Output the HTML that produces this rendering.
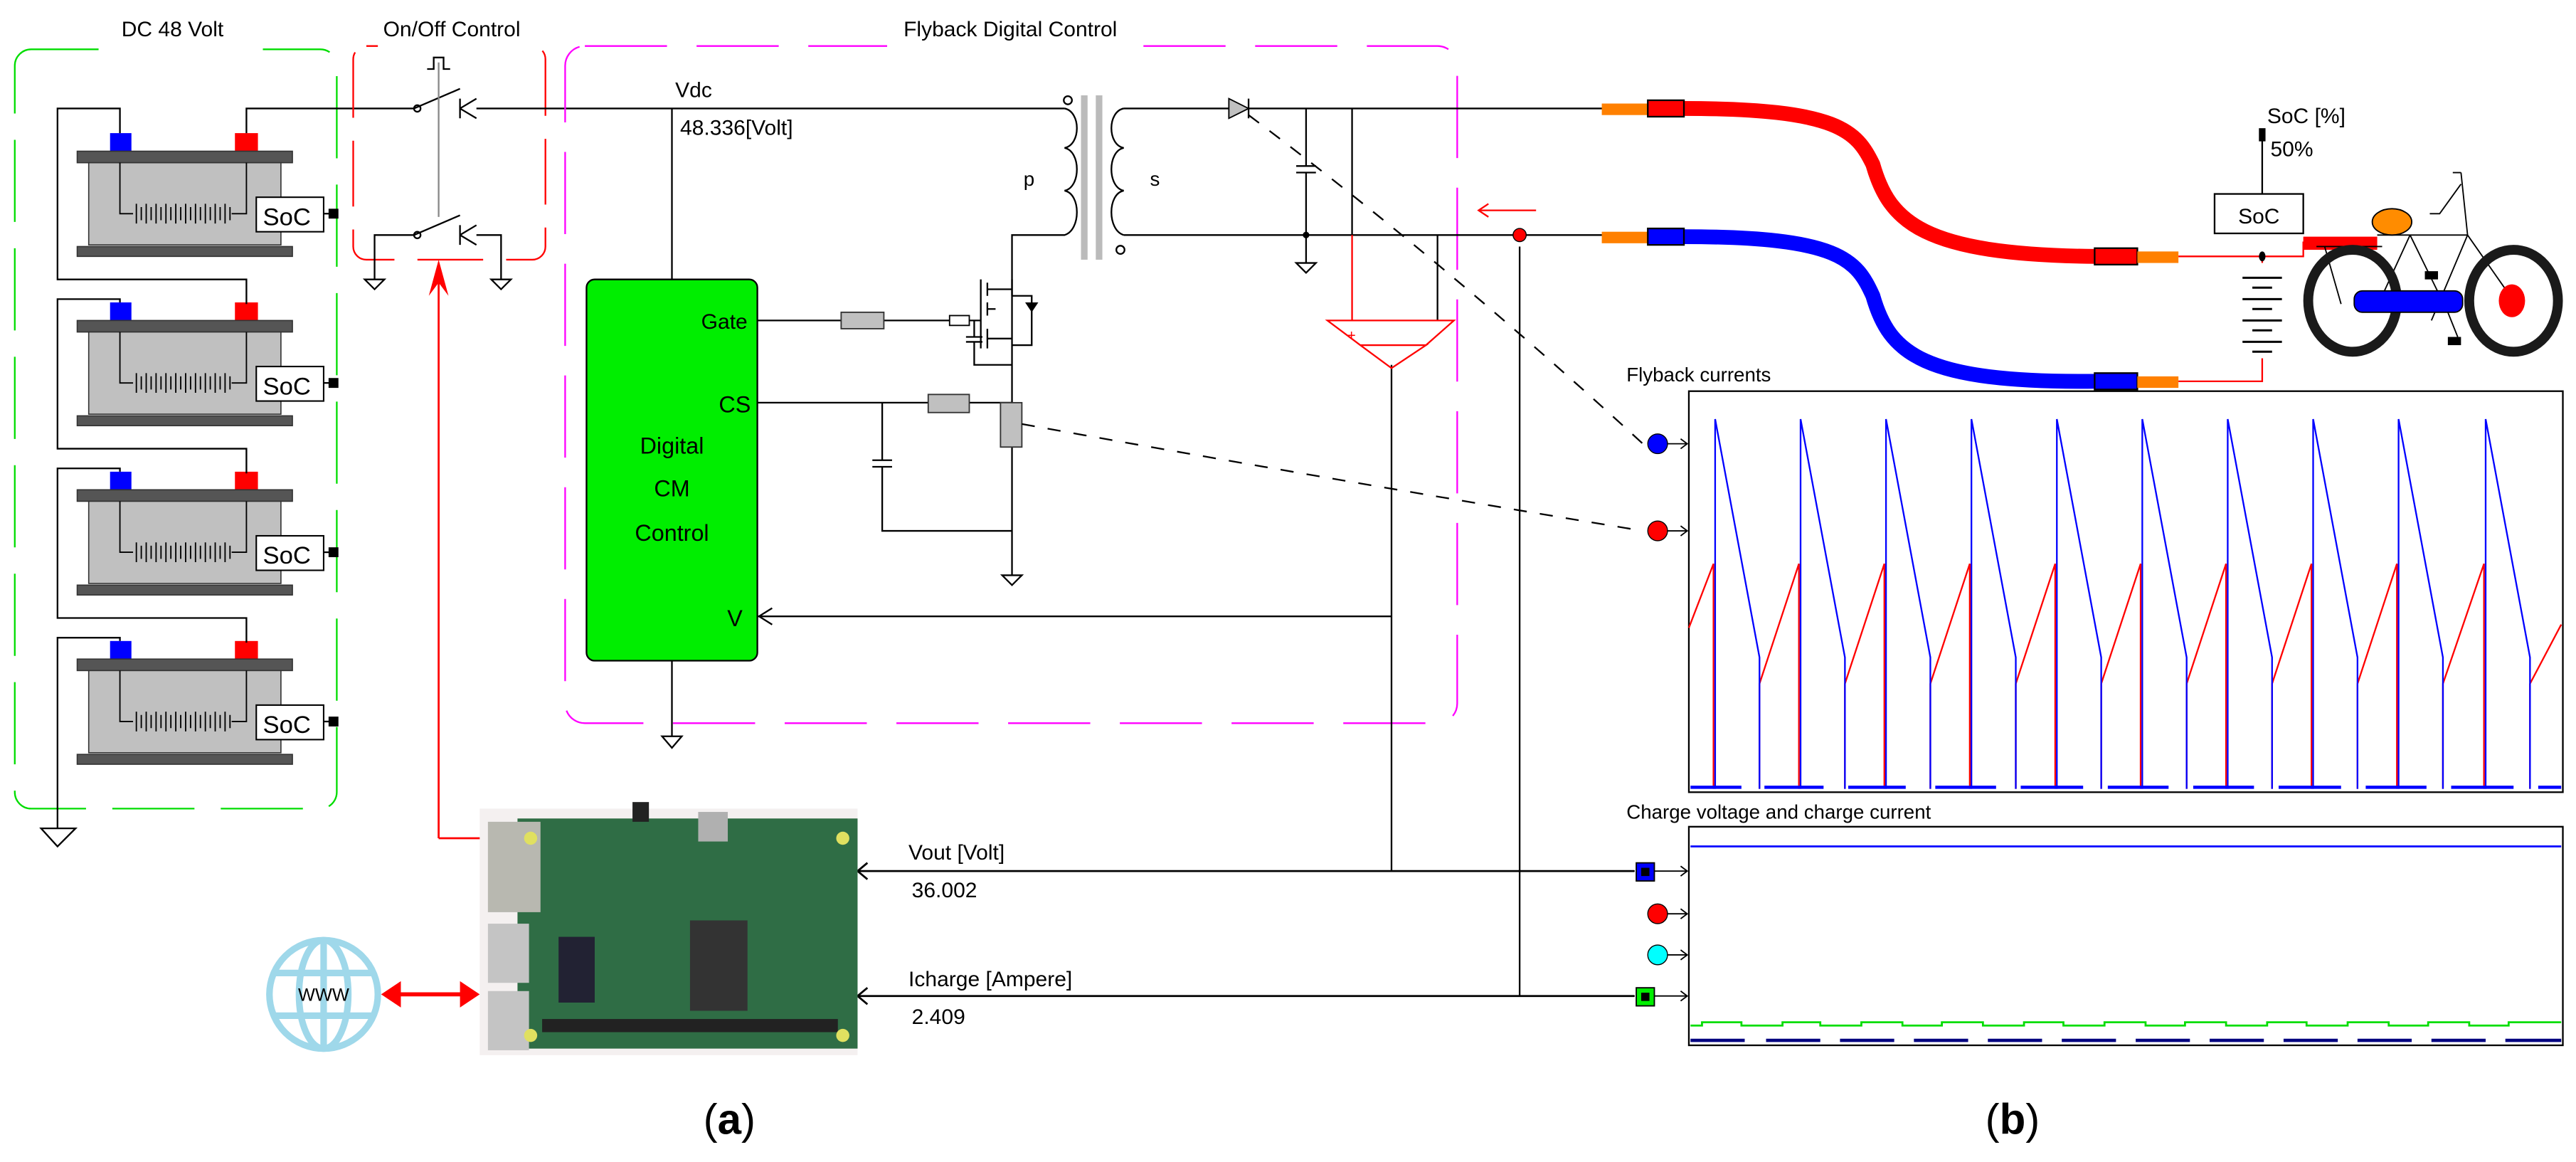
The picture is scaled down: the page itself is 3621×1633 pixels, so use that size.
<!DOCTYPE html>
<html><head><meta charset="utf-8"><style>
html,body{margin:0;padding:0;background:#fff;}
svg{display:block;}
text{font-family:"Liberation Sans",sans-serif;}
</style></head><body>
<svg width="3621" height="1633" viewBox="0 0 1568 707" preserveAspectRatio="none" xmlns="http://www.w3.org/2000/svg">
<rect width="1568" height="707" fill="#fff"/>
<defs>
<g id="bat">
  <rect x="67" y="81" width="13" height="11" fill="#0000ff"/>
  <rect x="143" y="81" width="14" height="11" fill="#ff0000"/>
  <rect x="47" y="92" width="131" height="7" fill="#555" stroke="#333" stroke-width="0.7"/>
  <rect x="54" y="99" width="117" height="50" fill="#c0c0c0" stroke="#333" stroke-width="0.7"/>
  <rect x="47" y="150" width="131" height="6" fill="#555" stroke="#333" stroke-width="0.7"/>
  <path d="M73 99 V130 H81 M150 99 V130 H141" fill="none" stroke="#000" stroke-width="0.8"/>
  <path d="M83 124v12M86 126v8M89 124v12M92 126v8M95 124v12M98 126v8M101 124v12M104 126v8M107 124v12M110 126v8M113 124v12M116 126v8M119 124v12M122 126v8M125 124v12M128 126v8M131 124v12M134 126v8M137 124v12M140 126v8" stroke="#000" stroke-width="0.8"/>
  <rect x="156" y="120" width="41" height="21" fill="#fff" stroke="#000" stroke-width="0.9"/>
  <text x="160" y="137" font-size="15">SoC</text>
  <line x1="197" y1="130" x2="201" y2="130" stroke="#000"/>
  <rect x="200" y="127" width="6" height="6" fill="#000"/>
</g>
<marker id="al" markerWidth="8" markerHeight="8" refX="1" refY="4" orient="auto"><path d="M7 0 L1 4 L7 8" fill="none" stroke="#000" stroke-width="1"/></marker>
</defs>

<!-- DC 48 Volt box -->
<rect x="9" y="30" width="196" height="462" rx="10" fill="none" stroke="#00dd00" stroke-width="1" stroke-dasharray="50,16"/>
<rect x="60" y="24" width="100" height="12" fill="#fff"/>
<text x="105" y="22" font-size="13" text-anchor="middle">DC 48 Volt</text>
<use href="#bat"/>
<use href="#bat" y="103"/>
<use href="#bat" y="206"/>
<use href="#bat" y="309"/>
<g fill="none" stroke="#000" stroke-width="1">
<path d="M73 81 V66 H35 V170 H150 V185"/>
<path d="M73 184 V182 H35 V273 H150 V288"/>
<path d="M73 287 V285 H35 V376 H150 V391"/>
<path d="M73 390 V388 H35 V504"/>
<path d="M25 504 H46 L35 515 Z"/>
<path d="M150 81 V66 H252"/>
</g>

<!-- On/Off -->
<rect x="215" y="28" width="117" height="130" rx="8" fill="none" stroke="#ff0000" stroke-width="1" stroke-dasharray="40,14"/>
<rect x="230" y="22" width="90" height="12" fill="#fff"/>
<text x="275" y="22" font-size="13" text-anchor="middle">On/Off Control</text>
<g fill="none" stroke="#000" stroke-width="1">
<line x1="252" y1="66" x2="280" y2="54"/>
<circle cx="254" cy="66" r="2"/>
<path d="M280 60 V72 M280 66 L290 60 M280 66 L290 72"/>
<line x1="290" y1="66" x2="409" y2="66"/>
<line x1="252" y1="143" x2="280" y2="131"/>
<circle cx="254" cy="143" r="2"/>
<path d="M280 137 V149 M280 143 L290 137 M280 143 L290 149"/>
<path d="M252 143 H228 V170 M222 170 H234 L228 176 Z"/>
<path d="M290 143 H305 V170 M299 170 H311 L305 176 Z"/>
<path d="M260 42 H264 V35 H270 V42 H274"/>
</g>
<line x1="267" y1="38" x2="267" y2="132" stroke="#888" stroke-width="1"/>
<path d="M267 510 V162" stroke="#ff0000" stroke-width="1.2" fill="none"/>
<path d="M267 510 H295" stroke="#ff0000" stroke-width="1.2"/>
<path d="M267 158 L261 180 L267 172 L273 180 Z" fill="#ff0000"/>

<!-- Flyback box -->
<rect x="344" y="28" width="543" height="412" rx="12" fill="none" stroke="#ff00ff" stroke-width="1" stroke-dasharray="50,18"/>
<rect x="540" y="22" width="150" height="12" fill="#fff"/>
<text x="615" y="22" font-size="13" text-anchor="middle">Flyback Digital Control</text>
<text x="411" y="59" font-size="13">Vdc</text>
<text x="414" y="82" font-size="13">48.336[Volt]</text>
<g fill="none" stroke="#000" stroke-width="1">
<path d="M409 66 H648"/>
<path d="M409 66 V170"/>
<path d="M409 402 V448 M403 448 H415 L409 455 Z"/>
</g>
<rect x="357" y="170" width="104" height="232" rx="5" fill="#00ee00" stroke="#000" stroke-width="1"/>
<text x="455" y="200" font-size="13" text-anchor="end">Gate</text>
<text x="457" y="251" font-size="14" text-anchor="end">CS</text>
<text x="409" y="276" font-size="14" text-anchor="middle">Digital</text>
<text x="409" y="302" font-size="14" text-anchor="middle">CM</text>
<text x="409" y="329" font-size="14" text-anchor="middle">Control</text>
<text x="452" y="381" font-size="14" text-anchor="end">V</text>

<!-- transformer -->
<g fill="none" stroke="#000" stroke-width="1">
<path d="M648 66 C658 68 658 88 648 90 C658 92 658 114 648 116 C658 118 658 140 648 143 H616 V180"/>
<path d="M684 66 C674 68 674 88 684 90 C674 92 674 114 684 116 C674 118 674 140 684 143"/>
<path d="M684 66 H748"/>
<path d="M684 143 H1000"/>
<circle cx="650" cy="61" r="2.5"/><circle cx="682" cy="152" r="2.5"/>
</g>
<rect x="658" y="58" width="4" height="100" fill="#bbb"/>
<rect x="667" y="58" width="4" height="100" fill="#bbb"/>
<text x="623" y="113" font-size="12">p</text>
<text x="700" y="113" font-size="12">s</text>
<!-- mosfet -->
<g fill="none" stroke="#000" stroke-width="1">
<path d="M616 180 H628 V210 H616"/>
<path d="M616 170 V350 M610 350 H622 L616 356 Z"/>
<path d="M461 195 H512 M538 195 H578 M590 195 H597"/>
<path d="M597 170 V212 M601 172 V180 M601 184 V192 M601 200 V212"/>
<path d="M601 176 H616 M601 206 H616 M601 188 H606"/>
<path d="M593 195 V205 M588 205 H598 M588 208 H598 M593 208 V222 H616"/>
<path d="M461 245 H565 M590 245 H616"/>
<path d="M537 245 V280 M531 280 H543 M531 284 H543 M537 284 V323 H616"/>
</g>
<path d="M628 190 L624 184 H632 Z" fill="#000"/>
<rect x="512" y="190" width="26" height="10" fill="#c0c0c0" stroke="#333" stroke-width="0.8"/>
<rect x="578" y="192" width="12" height="6" fill="#fff" stroke="#000" stroke-width="0.8"/>
<rect x="565" y="240" width="25" height="11" fill="#c0c0c0" stroke="#333" stroke-width="0.8"/>
<rect x="609" y="245" width="13" height="27" fill="#c0c0c0" stroke="#333" stroke-width="0.8"/>
<path d="M622 258 Q800 290 1000 323" fill="none" stroke="#000" stroke-width="1" stroke-dasharray="8,8"/>
<path d="M461 375 H847" stroke="#000" stroke-width="1"/>
<path d="M470 370 L462 375 L470 380" fill="none" stroke="#000"/>
<!-- secondary -->
<path d="M748 60 L760 66 L748 72 Z" fill="#c0c0c0" stroke="#000" stroke-width="0.8"/>
<g fill="none" stroke="#000" stroke-width="1">
<path d="M760 60 V72 M760 66 H985"/>
<path d="M795 66 V101 M789 101 H801 M789 105 H801 M795 105 V160 M789 160 H801 L795 166 Z"/>
<path d="M823 66 V143"/>
<path d="M875 143 V195"/>
<path d="M847 222 V530"/>
<path d="M925 150 V606"/>
</g>
<circle cx="795" cy="143" r="2" fill="#000"/>
<line x1="823" y1="143" x2="823" y2="195" stroke="#ff0000"/>
<path d="M808 195 H885 L868 210 H828 Z M828 210 H868 L847 224 Z" fill="none" stroke="#ff0000" stroke-width="1"/>
<text x="820" y="207" font-size="9" fill="#ff0000">+</text>
<path d="M760 70 Q880 160 1000 270" fill="none" stroke="#000" stroke-width="1" stroke-dasharray="8,8"/>
<path d="M935 128 H900 M906 124 L900 128 L906 132" fill="none" stroke="#ff0000" stroke-width="1"/>
<circle cx="925" cy="143" r="4" fill="#ff0000" stroke="#000" stroke-width="0.6"/>

<!-- Vout / Icharge -->
<g fill="none" stroke="#000" stroke-width="1.2">
<path d="M522 530 H995"/><path d="M528 525 L522 530 L528 535"/>
<path d="M522 606 H995"/><path d="M528 601 L522 606 L528 611"/>
</g>
<text x="553" y="523" font-size="13">Vout [Volt]</text>
<text x="555" y="546" font-size="13">36.002</text>
<text x="553" y="600" font-size="13">Icharge [Ampere]</text>
<text x="555" y="623" font-size="13">2.409</text>

<!-- RPi -->
<rect x="292" y="492" width="230" height="150" fill="#f4f0f0"/>
<rect x="315" y="498" width="207" height="140" fill="#2f6d45"/>
<rect x="297" y="500" width="32" height="55" fill="#b8b8b0"/>
<rect x="297" y="562" width="25" height="36" fill="#c4c4c4"/>
<rect x="297" y="603" width="25" height="36" fill="#c4c4c4"/>
<rect x="425" y="494" width="18" height="18" fill="#b0b0b0"/>
<rect x="385" y="488" width="10" height="12" fill="#222"/>
<rect x="340" y="570" width="22" height="40" fill="#223"/>
<rect x="420" y="560" width="35" height="55" fill="#333"/>
<rect x="330" y="620" width="180" height="8" fill="#222"/>
<circle cx="323" cy="510" r="4" fill="#e0e060"/><circle cx="513" cy="510" r="4" fill="#e0e060"/>
<circle cx="323" cy="630" r="4" fill="#e0e060"/><circle cx="513" cy="630" r="4" fill="#e0e060"/>
<!-- globe -->
<g fill="none" stroke="#9fd8ea" stroke-width="4">
<ellipse cx="197" cy="605" rx="33" ry="33"/>
<ellipse cx="197" cy="605" rx="15" ry="33"/>
<line x1="197" y1="572" x2="197" y2="638"/>
<line x1="166" y1="592" x2="228" y2="592"/>
<line x1="166" y1="618" x2="228" y2="618"/>
</g>
<text x="197" y="609" font-size="11" text-anchor="middle">WWW</text>
<path d="M234 605 H288" stroke="#ff0000" stroke-width="2.5"/>
<path d="M232 605 L244 597 L244 613 Z M292 605 L280 597 L280 613 Z" fill="#ff0000"/>

<!-- cables -->
<path d="M1025 66 C1120 66 1130 80 1140 100 C1150 135 1170 155 1275 156" fill="none" stroke="#ff0000" stroke-width="9"/>
<path d="M1025 144 C1120 144 1130 158 1140 180 C1150 215 1170 233 1275 232" fill="none" stroke="#0000ff" stroke-width="9"/>
<line x1="985" y1="66" x2="1000" y2="66" stroke="#000"/>
<rect x="975" y="63" width="28" height="7" fill="#ff8000"/>
<rect x="1003" y="61" width="22" height="10" fill="#ff0000" stroke="#000" stroke-width="1"/>
<rect x="975" y="141" width="28" height="7" fill="#ff8000"/>
<rect x="1003" y="139" width="22" height="10" fill="#0000ff" stroke="#000" stroke-width="1"/>
<rect x="1275" y="151" width="26" height="10" fill="#ff0000" stroke="#000" stroke-width="1"/>
<rect x="1301" y="153" width="25" height="7" fill="#ff8000"/>
<rect x="1275" y="227" width="26" height="10" fill="#0000ff" stroke="#000" stroke-width="1"/>
<rect x="1301" y="229" width="25" height="7" fill="#ff8000"/>
<!-- bike side -->
<path d="M1326 156 H1377 V160 M1377 156 H1402 V147" fill="none" stroke="#ff0000" stroke-width="1"/>
<path d="M1326 232 H1377 V218" fill="none" stroke="#ff0000" stroke-width="1"/>
<g stroke="#000" stroke-width="1.3">
<line x1="1365" y1="169" x2="1389" y2="169"/><line x1="1371" y1="175" x2="1383" y2="175"/>
<line x1="1365" y1="182" x2="1389" y2="182"/><line x1="1371" y1="188" x2="1383" y2="188"/>
<line x1="1365" y1="195" x2="1389" y2="195"/><line x1="1371" y1="201" x2="1383" y2="201"/>
<line x1="1365" y1="208" x2="1389" y2="208"/><line x1="1371" y1="214" x2="1383" y2="214"/>
</g>
<ellipse cx="1377" cy="156" rx="2" ry="3" fill="#000"/>
<rect x="1348" y="118" width="54" height="24" fill="#fff" stroke="#000" stroke-width="1"/>
<text x="1375" y="136" font-size="13" text-anchor="middle">SoC</text>
<line x1="1377" y1="85" x2="1377" y2="118" stroke="#000"/>
<rect x="1375" y="78" width="4" height="8" fill="#000"/>
<text x="1380" y="75" font-size="13">SoC [%]</text>
<text x="1382" y="95" font-size="13">50%</text>
<rect x="1402" y="144" width="45" height="8" fill="#ff0000"/>
<g fill="none" stroke="#000" stroke-width="0.8">
<path d="M1447 143 H1502 L1530 183 M1502 143 L1498 105 M1498 105 H1493 M1498 112 L1485 130 H1479"/>
<path d="M1467 143 L1490 190 L1496 205 M1467 143 L1450 180 M1502 143 L1480 195"/>
<path d="M1410 150 H1450 M1415 150 L1425 185"/>
</g>
<ellipse cx="1432" cy="183" rx="27" ry="31" fill="none" stroke="#1a1a1a" stroke-width="6"/>
<ellipse cx="1530" cy="183" rx="27" ry="31" fill="none" stroke="#1a1a1a" stroke-width="6"/>
<ellipse cx="1529" cy="183" rx="8" ry="10" fill="#ff0000"/>
<rect x="1433" y="177" width="66" height="13" rx="5" fill="#0000ff" stroke="#000" stroke-width="0.8"/>
<ellipse cx="1456" cy="135" rx="12" ry="8" fill="#ff8c00" stroke="#000" stroke-width="0.8"/>
<rect x="1476" y="165" width="8" height="5" fill="#000"/>
<rect x="1490" y="205" width="8" height="5" fill="#000"/>

<!-- Chart 1 -->
<text x="990" y="232" font-size="12">Flyback currents</text>
<rect x="1028" y="238" width="532" height="244" fill="#fff" stroke="#000" stroke-width="1"/>
<circle cx="1009" cy="270" r="6" fill="#0000ff" stroke="#000" stroke-width="0.6"/>
<circle cx="1009" cy="323" r="6" fill="#ff0000" stroke="#000" stroke-width="0.6"/>
<path d="M1015 270 H1027 M1023 267 L1027 270 L1023 273 M1015 323 H1027 M1023 320 L1027 323 L1023 326" fill="none" stroke="#000" stroke-width="0.8"/>
<path d="M1028 382 L1043 343 L1043 480 M1071 480 L1071 416 L1095 343 L1095 480 M1123 480 L1123 416 L1147 343 L1147 480 M1175 480 L1175 416 L1199 343 L1199 480 M1227 480 L1227 416 L1251 343 L1251 480 M1279 480 L1279 416 L1303 343 L1303 480 M1331 480 L1331 416 L1355 343 L1355 480 M1383 480 L1383 416 L1407 343 L1407 480 M1435 480 L1435 416 L1459 343 L1459 480 M1487 480 L1487 416 L1512 343 L1512 480 M1540 480 L1540 416 L1559 380" fill="none" stroke="#ff0000" stroke-width="1"/>
<path d="M1044 480 V255 L1071 400 V480 M1096 480 V255 L1123 400 V480 M1148 480 V255 L1175 400 V480 M1200 480 V255 L1227 400 V480 M1252 480 V255 L1279 400 V480 M1304 480 V255 L1331 400 V480 M1356 480 V255 L1383 400 V480 M1408 480 V255 L1435 400 V480 M1460 480 V255 L1487 400 V480 M1513 480 V255 L1540 400 V480" fill="none" stroke="#0000ff" stroke-width="1"/>
<path d="M1029 479 H1060 M1074 479 H1110 M1125 479 H1160 M1178 479 H1215 M1230 479 H1268 M1283 479 H1320 M1335 479 H1372 M1387 479 H1425 M1440 479 H1477 M1492 479 H1530 M1545 479 H1559" stroke="#0000ff" stroke-width="2"/>

<!-- Chart 2 -->
<text x="990" y="498" font-size="12">Charge voltage and charge current</text>
<rect x="1028" y="503" width="532" height="133" fill="#fff" stroke="#000" stroke-width="1"/>
<line x1="1029" y1="515" x2="1559" y2="515" stroke="#0000ff" stroke-width="1.2"/>
<path d="M1029 624 H1036 V622 H1060 V624 H1085 V622 H1108 V624 H1133 V622 H1158 V624 H1182 V622 H1207 V624 H1232 V622 H1256 V624 H1281 V622 H1306 V624 H1330 V622 H1355 V624 H1380 V622 H1404 V624 H1429 V622 H1454 V624 H1478 V622 H1503 V624 H1527 V622 H1559" fill="none" stroke="#00dd00" stroke-width="1.2"/>
<path d="M1029 633 H1062 M1075 633 H1108 M1120 633 H1153 M1165 633 H1198 M1210 633 H1243 M1255 633 H1288 M1300 633 H1333 M1345 633 H1378 M1390 633 H1423 M1435 633 H1468 M1480 633 H1513 M1525 633 H1559" stroke="#000080" stroke-width="2"/>
<rect x="996" y="525" width="11" height="11" fill="#0000ff" stroke="#000" stroke-width="0.8"/>
<rect x="999" y="528" width="5" height="5" fill="#000"/>
<circle cx="1009" cy="556" r="6" fill="#ff0000" stroke="#000" stroke-width="0.6"/>
<circle cx="1009" cy="581" r="6" fill="#00ffff" stroke="#000" stroke-width="0.6"/>
<rect x="996" y="601" width="11" height="11" fill="#00ee00" stroke="#000" stroke-width="0.8"/>
<rect x="999" y="604" width="5" height="5" fill="#000"/>
<path d="M1007 530 H1027 M1023 527 L1027 530 L1023 533 M1015 556 H1027 M1023 553 L1027 556 L1023 559 M1015 581 H1027 M1023 578 L1027 581 L1023 584 M1007 606 H1027 M1023 603 L1027 606 L1023 609" fill="none" stroke="#000" stroke-width="0.8"/>

<text x="444" y="690" font-size="26" text-anchor="middle" font-family="Liberation Serif, serif">(<tspan font-weight="bold">a</tspan>)</text>
<text x="1225" y="690" font-size="26" text-anchor="middle" font-family="Liberation Serif, serif">(<tspan font-weight="bold">b</tspan>)</text>
</svg>
</body></html>
